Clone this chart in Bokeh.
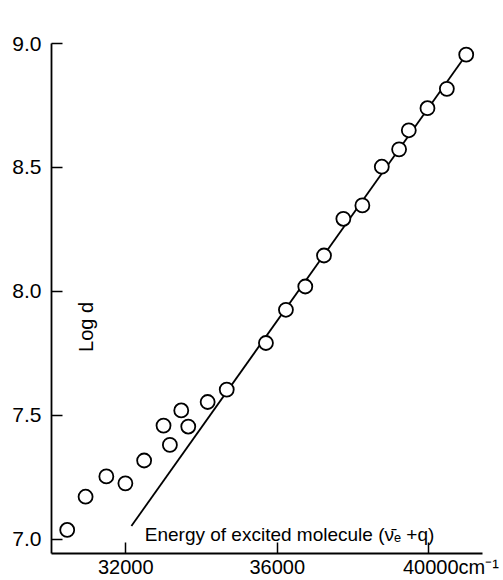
import math
from bokeh.plotting import figure
from bokeh.models import FixedTicker, Label, Range1d
from bokeh.embed import file_html
from bokeh.resources import INLINE

# Data
energy = [30455, 30940, 31488, 31991, 32486, 32998, 33166, 33466, 33651, 34163,
          34667, 35702, 36230, 36741, 37235, 37746, 38248, 38761, 39218, 39474,
          39967, 40479, 40990]
log_d = [7.038, 7.172, 7.254, 7.226, 7.318, 7.459, 7.381, 7.520, 7.455, 7.554,
         7.604, 7.792, 7.926, 8.020, 8.145, 8.293, 8.347, 8.503, 8.573, 8.650,
         8.739, 8.817, 8.955]
fit_x = [32150, 40990]
fit_y = [7.054, 8.955]
x_ticks = [32000, 36000, 40000]
x_tick_labels = ["32000", "36000", "\u00a0" * 8 + "40000cm\u207b\u00b9"]
y_ticks = [7.0, 7.5, 8.0, 8.5, 9.0]
y_tick_labels = ["7.0", "7.5", "8.0", "8.5", "9.0"]

FONT = "Liberation Sans"

p = figure(width=503, height=580, output_backend="svg", toolbar_location=None,
           x_range=Range1d(30040, 41420), y_range=Range1d(6.943, 9.0),
           min_border_left=51, min_border_top=43, min_border_right=21,
           min_border_bottom=24)

p.grid.visible = False
p.outline_line_color = None
p.background_fill_color = "white"

p.line(fit_x, fit_y, line_color="black", line_width=1.8)
p.scatter(energy, log_d, marker="circle", size=14, fill_color="white",
          line_color="black", line_width=1.8)

for ax in (p.xaxis[0], p.yaxis[0]):
    ax.axis_line_width = 1.8
    ax.axis_line_color = "black"
    ax.major_tick_in = 11
    ax.major_tick_out = 0
    ax.major_tick_line_width = 1.5
    ax.minor_tick_line_color = None
    ax.major_label_text_font = FONT
    ax.major_label_text_color = "black"

p.xaxis.ticker = FixedTicker(ticks=x_ticks)
p.yaxis.ticker = FixedTicker(ticks=y_ticks)
p.xaxis.major_label_overrides = dict(zip(x_ticks, x_tick_labels))
p.yaxis.major_label_overrides = dict(zip(y_ticks, y_tick_labels))
p.xaxis.major_label_text_font_size = "20px"
p.yaxis.major_label_text_font_size = "21px"
p.xaxis.major_label_standoff = 2
p.yaxis.major_label_standoff = 10

p.add_layout(Label(x=30942, y=7.857, text="Log d", text_font=FONT,
                   text_font_size="20px", angle=math.pi / 2,
                   text_align="center", text_baseline="middle",
                   text_color="black"))
p.add_layout(Label(x=32502, y=7.019,
                   text="Energy of excited molecule  (\u03bd\u0304\u2091 +q)",
                   text_font=FONT, text_font_size="19px",
                   text_align="left", text_baseline="alphabetic",
                   text_color="black"))

open("out.html", "w").write(file_html(p, INLINE))
